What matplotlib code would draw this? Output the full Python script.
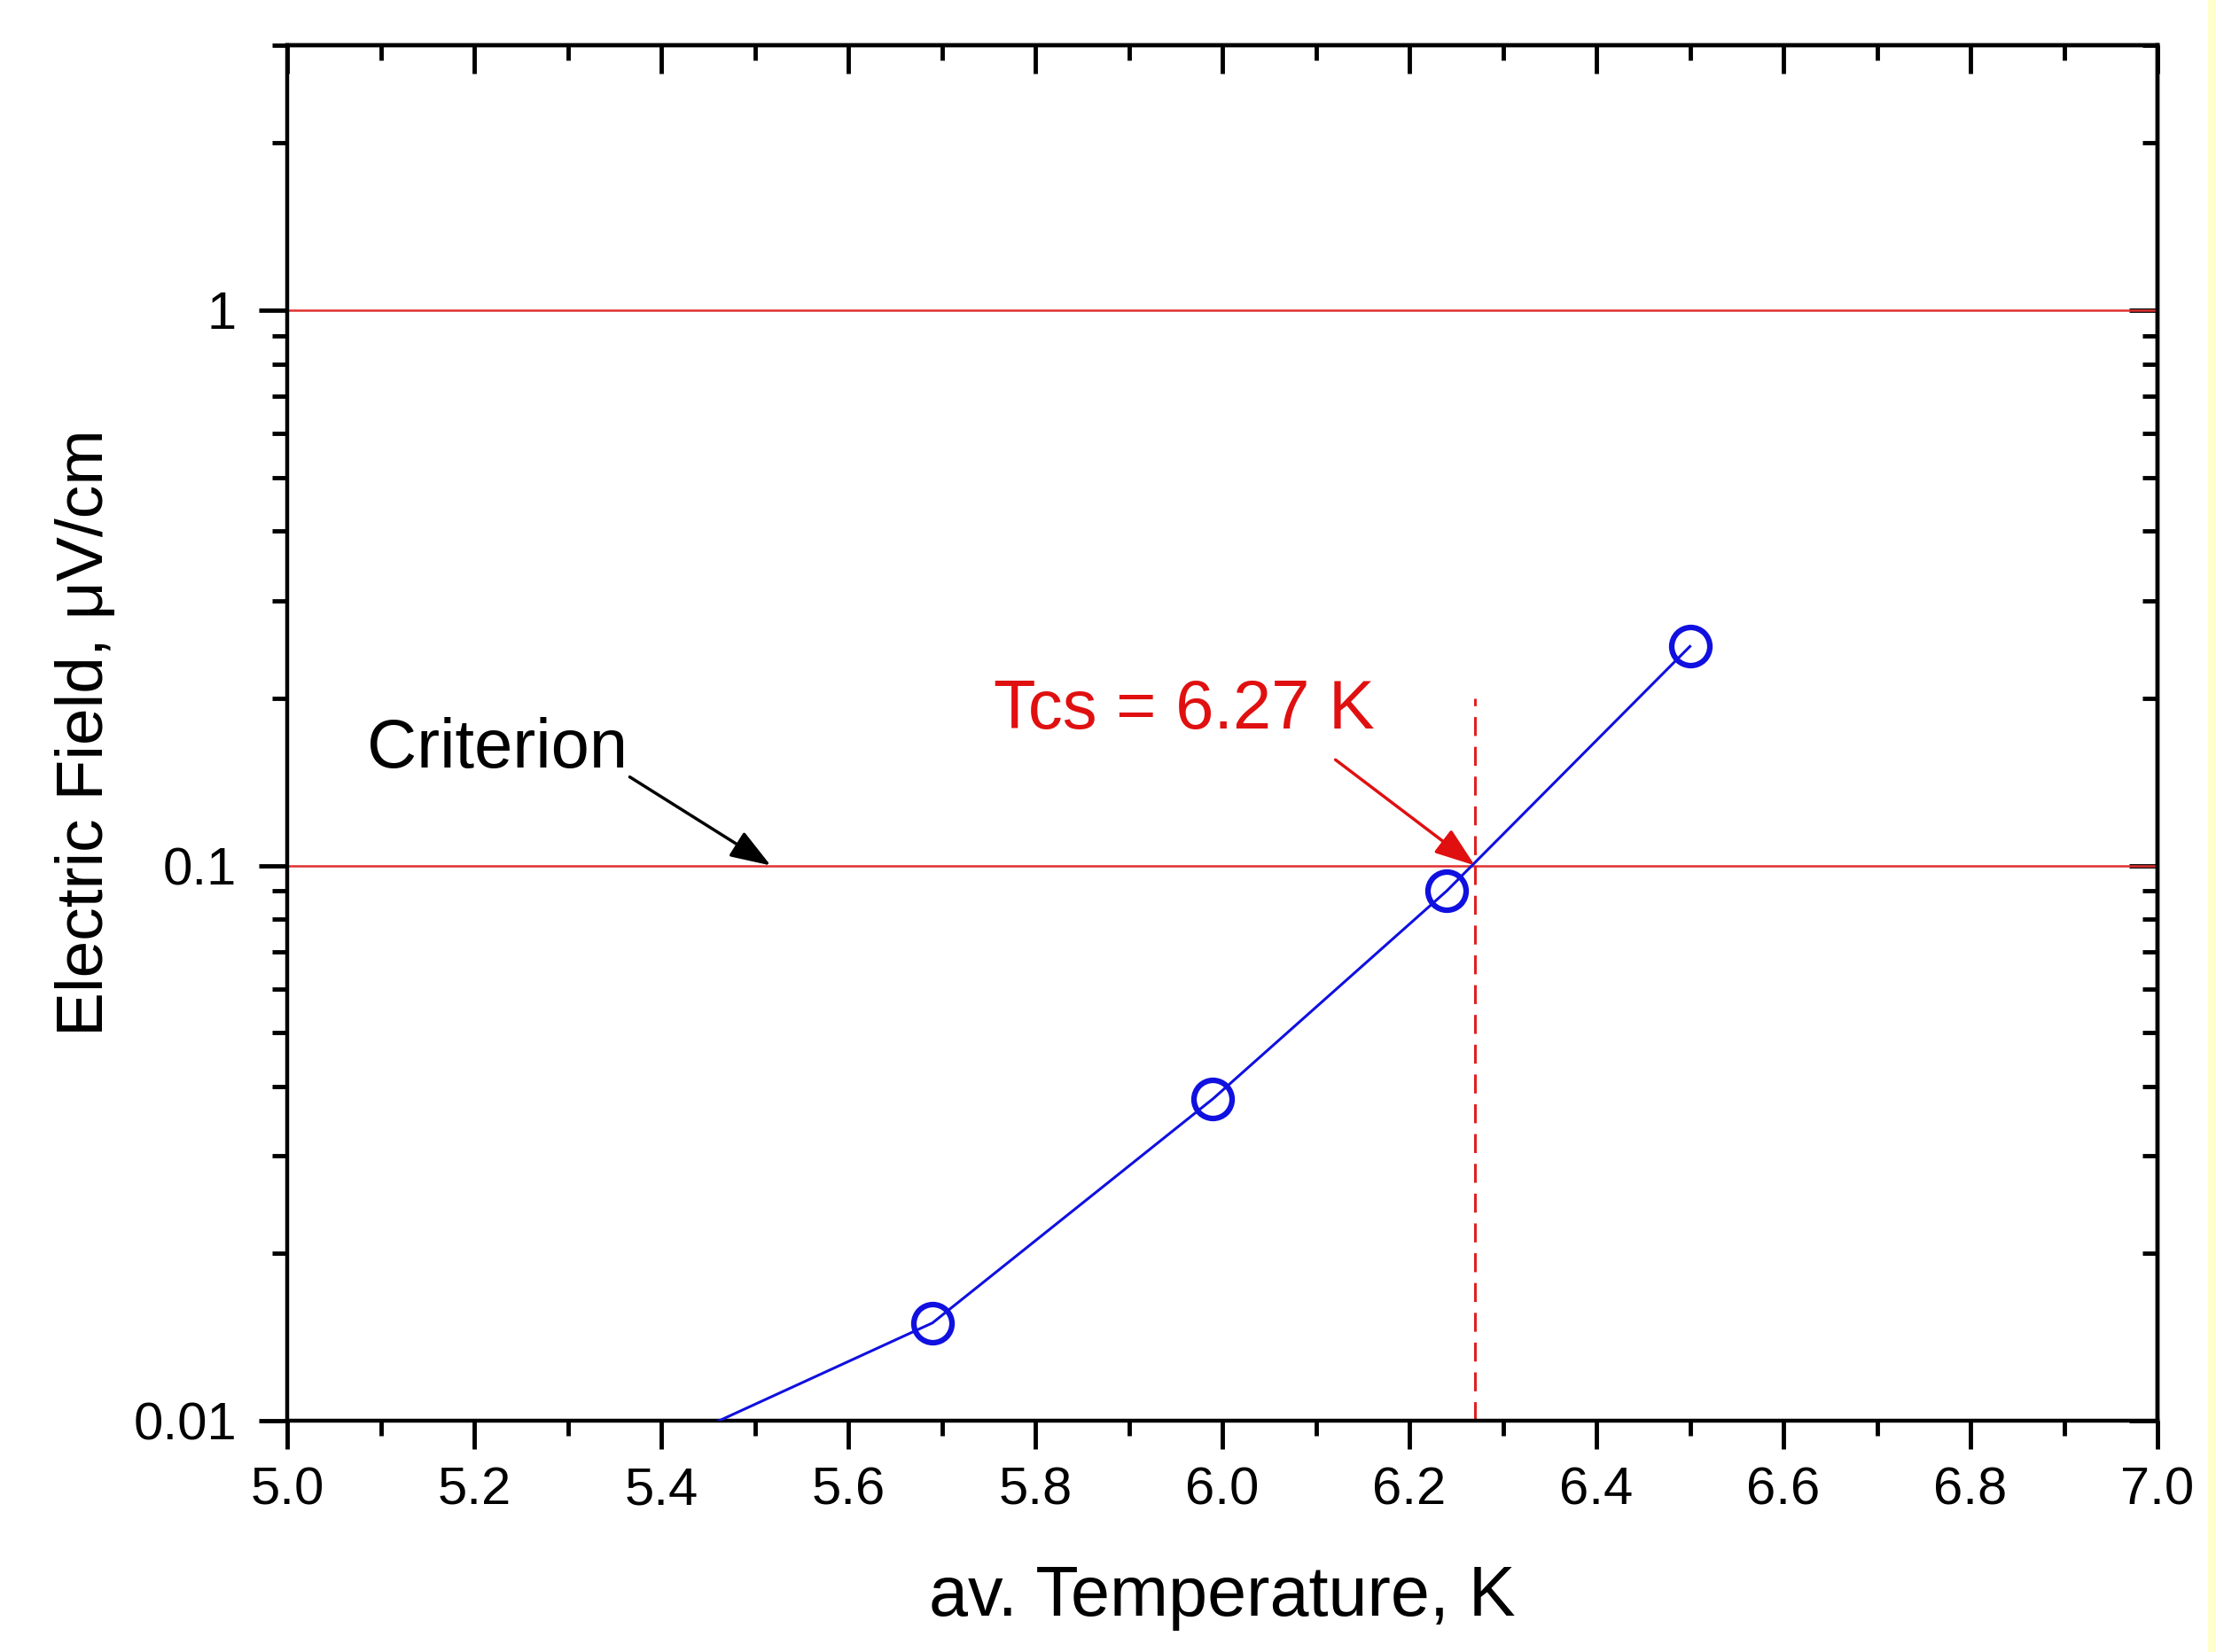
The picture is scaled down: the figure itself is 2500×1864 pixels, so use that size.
import matplotlib
matplotlib.use('Agg')
import matplotlib.pyplot as plt
from matplotlib.ticker import MultipleLocator, LogLocator, FixedLocator, NullFormatter
from matplotlib.patches import Rectangle

# measured data (first point sits below the plotted range)
temperature = [5.30, 5.69, 5.99, 6.24, 6.50]
field = [0.0075, 0.015, 0.038, 0.090, 0.248]

criterion_levels = [1.0, 0.1]
tcs = 6.27
tcs_top = 0.2

xticks = [5.0, 5.2, 5.4, 5.6, 5.8, 6.0, 6.2, 6.4, 6.6, 6.8, 7.0]
yticks = [0.01, 0.1, 1]
ytick_labels = ['0.01', '0.1', '1']

plt.rcParams['font.family'] = ['Liberation Sans', 'DejaVu Sans']

fig = plt.figure(figsize=(25, 18.64), dpi=100)
ax = fig.add_axes([0.1296, 0.140, 0.8440, 0.8326])

for lvl in criterion_levels:
    ax.axhline(lvl, color='#e03030', lw=1.8, zorder=1)

ax.plot([tcs, tcs], [0.01, tcs_top], color='#e02020', lw=2.2, ls=(0, (7, 4)), zorder=2)

ax.plot(temperature, field, color='#1010e0', lw=2.2, marker='o', ms=31,
        mfc='none', mec='#1010e0', mew=4.5, zorder=3)

ax.set_xlim(5.0, 7.0)
ax.set_yscale('log')
ax.set_ylim(0.01, 3)

ax.xaxis.set_major_locator(FixedLocator(xticks))
ax.xaxis.set_minor_locator(MultipleLocator(0.1))
ax.set_xticklabels(['%.1f' % v for v in xticks])
ax.yaxis.set_major_locator(FixedLocator(yticks))
ax.set_yticklabels(ytick_labels)
ax.yaxis.set_minor_locator(LogLocator(base=10, subs=range(2, 10)))
ax.yaxis.set_minor_formatter(NullFormatter())

for s in ax.spines.values():
    s.set_linewidth(3.2)

ax.tick_params(which='both', width=3.5, labelsize=43)
ax.tick_params(axis='x', which='both', direction='out', bottom=True, top=False, pad=14)
ax.tick_params(axis='y', which='both', direction='out', left=True, right=False, pad=18)
ax.tick_params(which='major', length=23)
ax.tick_params(which='minor', length=12)

# inward ticks on top and right
ax_top = ax.secondary_xaxis('top')
ax_top.xaxis.set_major_locator(FixedLocator(xticks))
ax_top.xaxis.set_minor_locator(MultipleLocator(0.1))
ax_top.tick_params(which='both', direction='in', width=3.5, labelsize=0, labeltop=False)
ax_top.tick_params(which='major', length=23)
ax_top.tick_params(which='minor', length=12)
ax_top.spines['top'].set_linewidth(3.2)

ax_right = ax.secondary_yaxis('right')
ax_right.yaxis.set_major_locator(FixedLocator(yticks))
ax_right.yaxis.set_minor_locator(LogLocator(base=10, subs=range(2, 10)))
ax_right.yaxis.set_minor_formatter(NullFormatter())
ax_right.tick_params(which='both', direction='in', width=3.5, labelright=False)
ax_right.tick_params(which='major', length=23)
ax_right.tick_params(which='minor', length=12)
ax_right.spines['right'].set_linewidth(3.2)

ax.set_xlabel('av. Temperature, K', fontsize=57, labelpad=40)
ax.set_ylabel('Electric Field, \u03bcV/cm', fontsize=54, labelpad=14)

head = '-|>,head_length=0.7,head_width=0.25'
ax.annotate('Criterion', xy=(5.517, 0.1), xytext=(5.085, 0.150),
            fontsize=56, color='black', ha='left', va='baseline',
            arrowprops=dict(arrowstyle=head, mutation_scale=40, color='black',
                            lw=2.5, shrinkA=0, shrinkB=0, relpos=(1.0, 0.1)))
ax.annotate('Tcs = 6.27 K', xy=(tcs, 0.1), xytext=(5.755, 0.1766),
            fontsize=56, color='#e01010', ha='left', va='baseline')
ax.annotate('', xy=(tcs, 0.1), xytext=(6.121, 0.155),
            arrowprops=dict(arrowstyle=head, mutation_scale=40, color='#e01010',
                            lw=2.5, shrinkA=0, shrinkB=0))

fig.patches.append(Rectangle((0.9965, 0), 0.0035, 1, transform=fig.transFigure,
                             color='#ffffcc', zorder=0))

fig.savefig('out.png', dpi=100)
